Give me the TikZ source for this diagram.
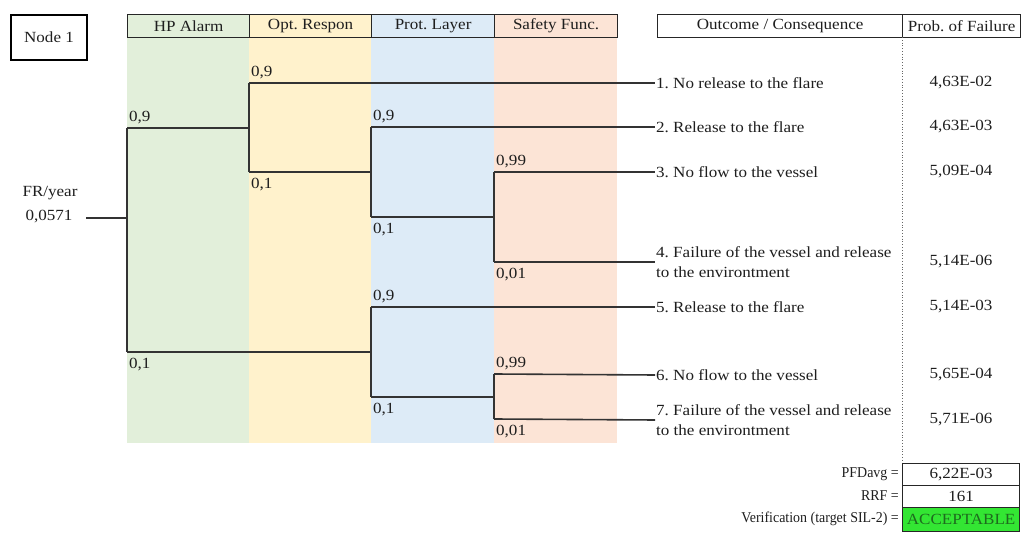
\documentclass[tikz,border=0pt]{standalone}
\usepackage{fontspec}
\setmainfont{Liberation Serif}
\newfontfamily\tnr[FakeStretch=1.1]{Liberation Serif}
\newfontfamily\tnrcond[FakeStretch=0.93]{Liberation Serif}
\frenchspacing
\definecolor{hpgreen}{HTML}{E2EFDA}
\definecolor{optyellow}{HTML}{FFF2CC}
\definecolor{protblue}{HTML}{DDEBF7}
\definecolor{safepink}{HTML}{FCE4D6}
\definecolor{okgreen}{HTML}{33E633}
\definecolor{okgreentext}{HTML}{1E6B1E}
\definecolor{linecol}{HTML}{333333}
\definecolor{txt}{HTML}{1E1E1E}
\begin{document}
\begin{tikzpicture}[x=1pt,y=-1pt,
  every node/.style={text=txt,font=\tnr\fontsize{15.5}{19.5}\selectfont},
  tline/.style={draw=linecol,line width=1.6pt},
  hdr/.style={draw=black!85,line width=1.2pt,minimum height=23,inner sep=0pt,anchor=north west},
  plbl/.style={anchor=base west,inner sep=0pt},
  outc/.style={anchor=west,inner sep=1pt,align=left},
  prob/.style={anchor=center,inner sep=0pt},
  cell/.style={draw=black!85,line width=1.2pt,minimum width=117,minimum height=22,inner sep=0pt,anchor=north west},
  rlbl/.style={anchor=east,inner sep=0pt,font=\tnrcond\fontsize{15}{18}\selectfont}]
\useasboundingbox (0,0) rectangle (1021,534);
% column backgrounds
\fill[hpgreen] (127,37) rectangle (249,443);
\fill[optyellow] (249,37) rectangle (371,443);
\fill[protblue] (371,37) rectangle (494,443);
\fill[safepink] (494,37) rectangle (617,443);
% headers
\node[draw=black,line width=2.2pt,minimum width=76,minimum height=45,inner sep=0pt] (n1) at (49,37.5) {Node 1};
\node[hdr,fill=hpgreen,minimum width=122] (h1) at (127,14) {HP Alarm};
\node[hdr,fill=optyellow,minimum width=122] (h2) at (249,14) {Opt. Respon};
\node[hdr,fill=protblue,minimum width=123] (h3) at (371,14) {Prot. Layer};
\node[hdr,fill=safepink,minimum width=123] (h4) at (494,14) {Safety Func.};
\node[hdr,minimum width=245] (h5) at (657,14) {Outcome / Consequence};
\node[hdr,minimum width=118] (h6) at (902,14) {Prob. of Failure};
% dotted separator
\coordinate (dtop) at (902,37);
\coordinate (dbot) at (902,463);
\draw[black!60,line width=0.8pt,dotted] (dtop) -- (dbot);
% initiating event
\node[anchor=center,inner sep=0pt] (fr) at (50,193) {FR/year};
\node[anchor=center,inner sep=0pt] (frv) at (49,217) {0,0571};
\coordinate (r0) at (86,218);
% branch points
\coordinate (a) at (127,218);
\coordinate (aup) at (127,128);
\coordinate (adn) at (127,352);
\coordinate (b) at (249,128);
\coordinate (bup) at (249,83);
\coordinate (bdn) at (249,172);
\coordinate (c) at (371,172);
\coordinate (cup) at (371,127);
\coordinate (cdn) at (371,217);
\coordinate (d) at (494,217);
\coordinate (dup) at (494,172);
\coordinate (ddn) at (494,262);
\coordinate (e) at (371,352);
\coordinate (eup) at (371,307);
\coordinate (edn) at (371,397);
\coordinate (f) at (494,397);
\coordinate (fup) at (494,374);
\coordinate (fdn) at (494,419);
% outcomes
\node[outc] (o1) at (655,83) {1. No release to the flare};
\node[outc] (o2) at (655,127) {2. Release to the flare};
\node[outc] (o3) at (655,172) {3. No flow to the vessel};
\node[outc] (o4) at (655,262) {4. Failure of the vessel and release\\to the environtment};
\node[outc] (o5) at (655,307) {5. Release to the flare};
\node[outc] (o6) at (655,375) {6. No flow to the vessel};
\node[outc] (o7) at (655,420) {7. Failure of the vessel and release\\to the environtment};
% probabilities
\node[prob] (p1) at (961,83) {4,63E-02};
\node[prob] (p2) at (961,127) {4,63E-03};
\node[prob] (p3) at (961,172) {5,09E-04};
\node[prob] (p4) at (961,262) {5,14E-06};
\node[prob] (p5) at (961,307) {5,14E-03};
\node[prob] (p6) at (961,375) {5,65E-04};
\node[prob] (p7) at (961,420) {5,71E-06};
% tree lines
\draw[tline] (r0) -- (a);
\draw[tline] (aup) -- (adn);
\draw[tline] (aup) -- (b);
\draw[tline] (adn) -- (e);
\draw[tline] (bup) -- (bdn);
\draw[tline] (bup) -- (o1.west);
\draw[tline] (bdn) -- (c);
\draw[tline] (cup) -- (cdn);
\draw[tline] (cup) -- (o2.west);
\draw[tline] (cdn) -- (d);
\draw[tline] (dup) -- (ddn);
\draw[tline] (dup) -- (o3.west);
\draw[tline] (ddn) -- (o4.west);
\draw[tline] (eup) -- (edn);
\draw[tline] (eup) -- (o5.west);
\draw[tline] (edn) -- (f);
\draw[tline] (fup) -- (fdn);
\draw[tline] (fup) -- (o6.west);
\draw[tline] (fdn) -- (o7.west);
% branch labels
\node[plbl] (la1) at (129,122) {0,9};
\node[plbl] (la2) at (129,369) {0,1};
\node[plbl] (lb1) at (251,77) {0,9};
\node[plbl] (lb2) at (251,189) {0,1};
\node[plbl] (lc1) at (373,121) {0,9};
\node[plbl] (lc2) at (373,234) {0,1};
\node[plbl] (ld1) at (496,166) {0,99};
\node[plbl] (ld2) at (496,279) {0,01};
\node[plbl] (le1) at (373,301) {0,9};
\node[plbl] (le2) at (373,414) {0,1};
\node[plbl] (lf1) at (496,368) {0,99};
\node[plbl] (lf2) at (496,436) {0,01};
% summary
\node[cell] (pfd) at (902,463) {6,22E-03};
\node[cell] (rrf) at (902,485) {161};
\node[cell,fill=okgreen,text=okgreentext,minimum height=24] (ver) at (902,507) {ACCEPTABLE};
\node[rlbl] (pfdl) at (899,474) {PFDavg =};
\node[rlbl] (rrfl) at (899,496) {RRF =};
\node[rlbl] (verl) at (899,519) {Verification (target SIL-2) =};
\end{tikzpicture}
\end{document}
